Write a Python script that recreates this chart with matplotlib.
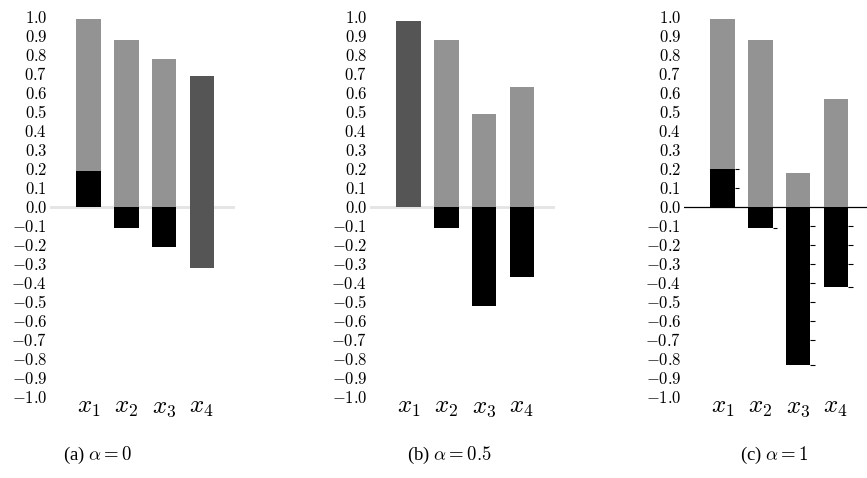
import numpy as np
import matplotlib
matplotlib.use('Agg')
import matplotlib.pyplot as plt

plt.rcParams['mathtext.fontset'] = 'cm'
plt.rcParams['font.family'] = ['Liberation Serif', 'DejaVu Serif']

# --- Data ---
features = ['$x_1$', '$x_2$', '$x_3$', '$x_4$']
captions = [r'(a) $\alpha = 0$', r'(b) $\alpha = 0.5$', r'(c) $\alpha = 1$']

# light gray part: (bottom, top)
gray_a = [(0.19, 0.99), (0.0, 0.88), (0.0, 0.78), None]
gray_b = [None, (0.0, 0.88), (0.0, 0.49), (0.0, 0.63)]
gray_c = [(0.20, 0.99), (0.0, 0.88), (0.0, 0.18), (0.0, 0.57)]

# black part: (bottom, top)
black_a = [(0.0, 0.19), (-0.11, 0.0), (-0.21, 0.0), None]
black_b = [None, (-0.11, 0.0), (-0.52, 0.0), (-0.37, 0.0)]
black_c = [(0.0, 0.20), (-0.11, 0.0), (-0.83, 0.0), (-0.42, 0.0)]

# dark gray (single) bars: (bottom, top)
dark_a = [None, None, None, (-0.32, 0.69)]
dark_b = [(0.0, 0.98), None, None, None]
dark_c = [None, None, None, None]

panels = [
    (gray_a, black_a, dark_a),
    (gray_b, black_b, dark_b),
    (gray_c, black_c, dark_c),
]

yticks = np.round(np.arange(-1.0, 1.01, 0.1), 1)

W, H = 867, 478
fig = plt.figure(figsize=(W / 100, H / 100), dpi=100)

lefts = [50, 370, 684]
ax_w = 185
bottom_px = 397
top_px = 17

bar_w = 0.65
xs = np.arange(len(features))

for k, (gray, black, dark) in enumerate(panels):
    ax = fig.add_axes([lefts[k] / W, (H - bottom_px) / H, ax_w / W, (bottom_px - top_px) / H])
    ax.set_xlim(-1.02, 3.88)
    ax.set_ylim(-1.0, 1.0)

    # zero line
    if k == 2:
        ax.axhline(0, color='black', lw=0.9, zorder=1)
    else:
        ax.axhline(0, color='#e4e4e4', lw=2.0, zorder=1)

    for i, x in enumerate(xs):
        if gray[i] is not None:
            b, t = gray[i]
            ax.bar(x, t - b, bottom=b, width=bar_w, color='#939393', zorder=2)
        if black[i] is not None:
            b, t = black[i]
            ax.bar(x, t - b, bottom=b, width=bar_w, color='black', zorder=3)
            if k == 2:
                # small tick marks on the right edge of the black bars
                lo, hi = min(b, t), max(b, t)
                ticks = [v for v in np.round(np.arange(np.ceil(lo * 10) / 10, hi + 1e-9, 0.1), 1)
                         if abs(v) > 1e-9 and abs(v - lo) > 0.04 and abs(v - hi) > 0.04]
                ticks.append(lo if lo < 0 else hi)
                ax.hlines(ticks, x + bar_w / 2, x + bar_w / 2 + 0.12,
                          color='black', lw=0.8, zorder=3)
        if dark[i] is not None:
            b, t = dark[i]
            ax.bar(x, t - b, bottom=b, width=bar_w, color='#555555', zorder=3)

    ax.set_yticks(yticks)
    ax.set_yticklabels(['$%.1f$' % v if v != 0 else '$0.0$' for v in yticks], fontsize=12)
    ax.tick_params(axis='y', length=0, pad=2)
    ax.set_xticks(xs)
    ax.set_xticklabels(features, fontsize=18)
    ax.tick_params(axis='x', length=0, pad=0)
    for s in ax.spines.values():
        s.set_visible(False)
    ax.patch.set_alpha(0)

    cx = [98, 449, 774][k]
    fig.text(cx / W, 1 - 455 / H, captions[k], ha='center', va='center', fontsize=13.5)

fig.savefig('out.png', dpi=100)
